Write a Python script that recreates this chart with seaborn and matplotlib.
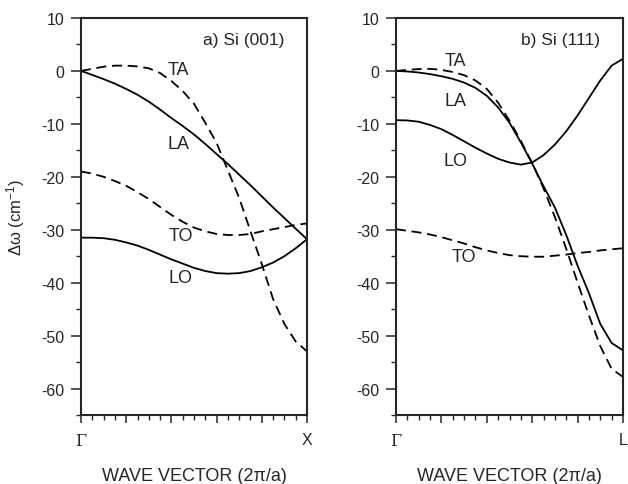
import numpy as np
import pandas as pd
import seaborn as sns
import matplotlib.pyplot as plt
from matplotlib.ticker import MultipleLocator

# Wave vector grid (fraction of zone boundary), shared by all branches
q = [0.0, 0.05, 0.1, 0.15, 0.2, 0.25, 0.3, 0.35, 0.4, 0.45, 0.5,
     0.55, 0.6, 0.65, 0.7, 0.75, 0.8, 0.85, 0.9, 0.95, 1.0]

# a) Si (001), Gamma -> X
a_TA = [0, 0.4, 0.8, 1.0, 1.0, 0.85, 0.5, -0.4, -1.9, -3.8, -6.2,
        -9.8, -13.6, -18.8, -24.0, -30.3, -36.5, -43.1, -47.8, -51.1, -53.0]
a_LA = [0, -0.75, -1.55, -2.4, -3.4, -4.5, -5.8, -7.3, -8.9, -10.4, -12.0,
        -13.8, -15.7, -17.6, -19.6, -21.6, -23.7, -25.8, -27.8, -29.8, -31.8]
a_TO = [-19.0, -19.4, -20.0, -20.8, -21.7, -22.9, -24.2, -25.7, -27.2, -28.5, -29.6,
        -30.3, -30.8, -31.0, -31.0, -30.8, -30.3, -29.9, -29.5, -29.1, -28.8]
a_LO = [-31.5, -31.5, -31.6, -31.9, -32.4, -33.0, -33.8, -34.7, -35.6, -36.4, -37.2,
        -37.8, -38.2, -38.3, -38.2, -37.8, -37.1, -36.2, -35.0, -33.5, -31.8]

# b) Si (111), Gamma -> L
b_TA = [0, 0.2, 0.35, 0.4, 0.2, -0.2, -0.8, -1.8, -3.4, -6.0, -9.4,
        -13.2, -17.4, -22.2, -27.6, -33.6, -40.0, -46.2, -52.0, -56.3, -57.8]
b_LA = [0, -0.1, -0.3, -0.6, -1.0, -1.5, -2.2, -3.2, -4.7, -6.9, -9.8,
        -13.5, -17.5, -21.8, -25.8, -31.0, -36.8, -42.0, -47.8, -51.4, -52.8]
b_TO = [-29.9, -30.2, -30.5, -30.9, -31.4, -32.0, -32.6, -33.3, -33.9, -34.4, -34.8,
        -35.0, -35.1, -35.1, -34.9, -34.7, -34.4, -34.2, -33.9, -33.7, -33.5]
b_LO = [-9.3, -9.35, -9.6, -10.2, -11.0, -12.1, -13.3, -14.5, -15.6, -16.6, -17.3,
        -17.7, -17.3, -15.9, -13.9, -11.4, -8.4, -5.1, -1.8, 1.0, 2.3]

branches = ['TA', 'LA', 'TO', 'LO']
panelTitles = ['a) Si (001)', 'b) Si (111)']
zoneEnds = ['X', 'L']
yTicks = [-60, -50, -40, -30, -20, -10, 0, 10]

# label positions (q, dw) for branch names
labPos = [{'TA': (0.43, 0.2), 'LA': (0.43, -13.7), 'TO': (0.44, -31.0), 'LO': (0.44, -39.0)},
          {'TA': (0.26, 1.9), 'LA': (0.26, -5.6), 'TO': (0.30, -35.0), 'LO': (0.26, -17.0)}]

def make_df(ta, la, to, lo):
    rows = []
    for name, vals in zip(branches, [ta, la, to, lo]):
        for x, y in zip(q, vals):
            rows.append({'q': x, 'dw': y, 'branch': name})
    return pd.DataFrame(rows)

dfs = [make_df(a_TA, a_LA, a_TO, a_LO), make_df(b_TA, b_LA, b_TO, b_LO)]

# Styles
sns.set_style('ticks')
plt.rcParams['font.family'] = ['Liberation Sans', 'DejaVu Sans']
plt.rcParams['mathtext.default'] = 'regular'
lineW = 1.3
dashPat = (5.5, 3.2)
dashes = {'TA': dashPat, 'TO': dashPat, 'LA': '', 'LO': ''}
pal = {b: 'black' for b in branches}

fig = plt.figure(figsize=(6.28, 4.85), dpi=100)
ax1 = fig.add_axes([81/628, 69/485, 226/628, 397/485])
ax2 = fig.add_axes([396/628, 69/485, 227/628, 397/485])

for i, ax in enumerate([ax1, ax2]):
    sns.lineplot(data=dfs[i], x='q', y='dw', hue='branch', style='branch', dashes=dashes,
                 palette=pal, linewidth=lineW, sort=False, legend=False, ax=ax)
    ax.set_xlim(0, 1)
    ax.set_ylim(-65, 10)
    ax.set_yticks(yTicks)
    ax.set_yticklabels([str(t) for t in yTicks])
    ax.yaxis.set_minor_locator(MultipleLocator(5))
    ax.set_xticks([0, 0.2, 0.4, 0.6, 0.8, 1.0])
    ax.set_xticklabels(['Γ', '', '', '', '', zoneEnds[i]])
    ax.xaxis.get_ticklabels()[0].set_fontfamily('DejaVu Serif')
    ax.xaxis.set_minor_locator(MultipleLocator(0.05))
    ax.tick_params(axis='both', which='major', direction='out', length=7, width=1.1,
                   labelsize=11.5, pad=5)
    ax.tick_params(axis='y', which='minor', direction='out', length=3.3, width=1.0)
    ax.tick_params(axis='x', which='minor', direction='out', length=3.5, width=1.0)
    ax.tick_params(axis='x', which='major', length=6, pad=6)
    for sp in ax.spines.values():
        sp.set_linewidth(1.5)
    ax.set_xlabel('WAVE VECTOR (2π/a)', fontsize=13, labelpad=13)
    ax.set_ylabel('')
    ax.text(0.9, 6, panelTitles[i], fontsize=12.5, ha='right', va='center')
    for b in branches:
        ax.text(labPos[i][b][0], labPos[i][b][1], b, fontsize=13, ha='center', va='center')

ax1.set_ylabel('Δω (cm$^{-1}$)', fontsize=12, labelpad=10)

fig.savefig('out.png', dpi=100)
